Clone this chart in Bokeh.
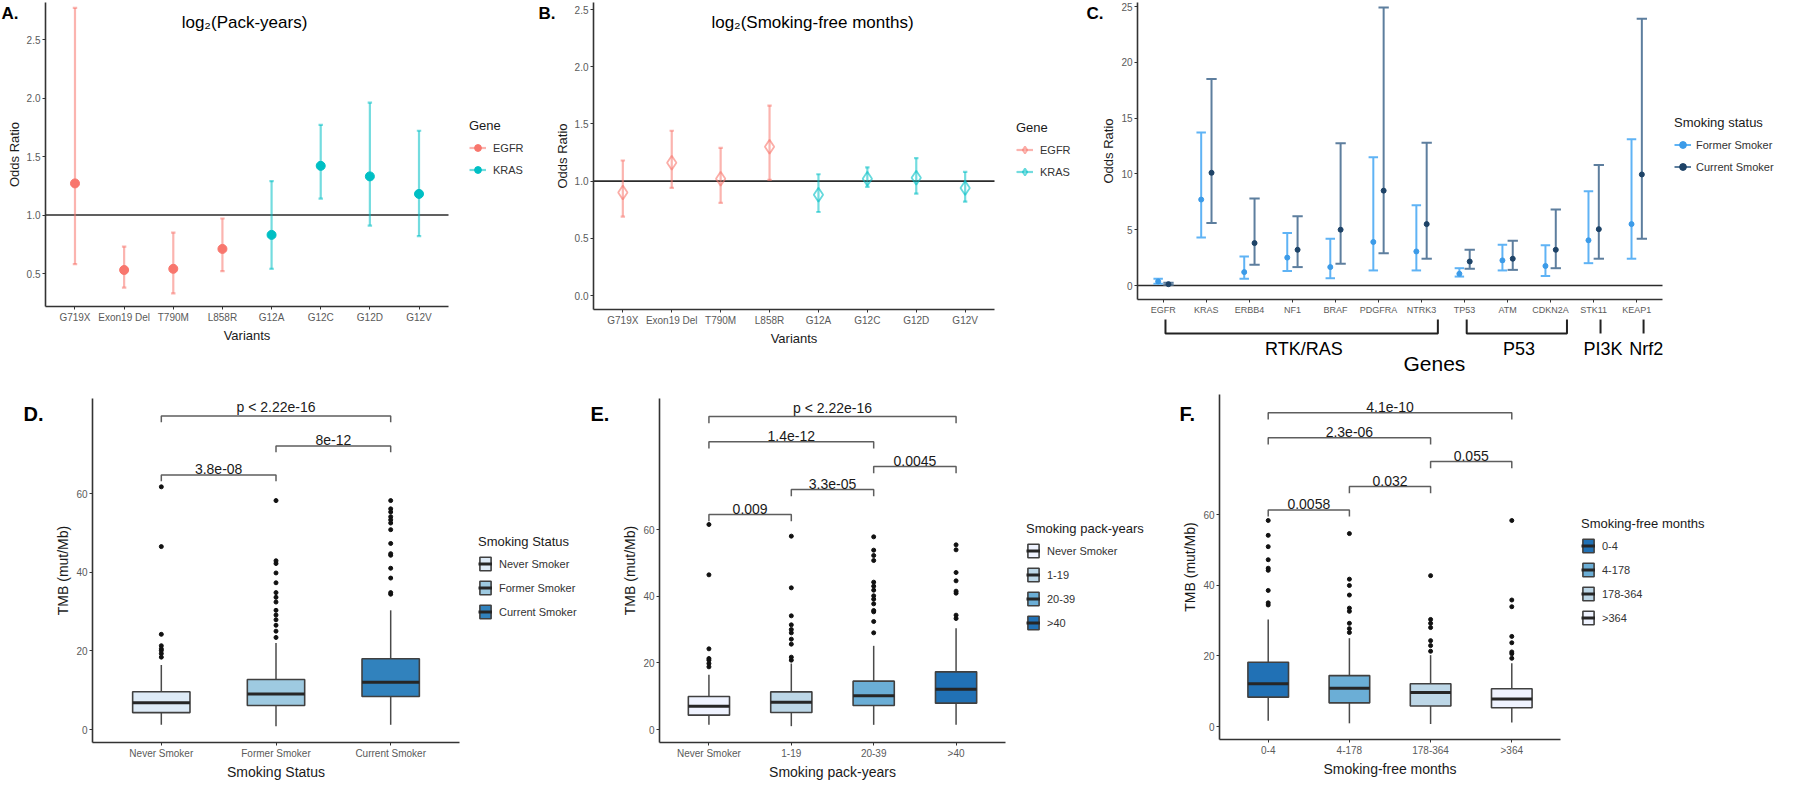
from bokeh.plotting import figure
from bokeh.models import (Range1d, FixedTicker, Label, LabelSet, Legend, LegendItem,
                          ColumnDataSource, PrintfTickFormatter)
from bokeh.layouts import row, column
from bokeh.embed import file_html
from bokeh.resources import INLINE
from bokeh.core.properties import value

FONT = "Liberation Sans"

# ---------------- data: panels A / B ----------------
variants = ["G719X", "Exon19 Del", "T790M", "L858R", "G12A", "G12C", "G12D", "G12V"]
variant_gene = ["EGFR", "EGFR", "EGFR", "EGFR", "KRAS", "KRAS", "KRAS", "KRAS"]
packyears_or = [1.27, 0.53, 0.54, 0.71, 0.83, 1.42, 1.33, 1.18]
packyears_lo = [0.58, 0.38, 0.33, 0.52, 0.54, 1.14, 0.91, 0.82]
packyears_hi = [2.77, 0.73, 0.85, 0.97, 1.29, 1.77, 1.96, 1.72]
sfm_or = [0.90, 1.16, 1.02, 1.30, 0.88, 1.02, 1.03, 0.94]
sfm_lo = [0.69, 0.94, 0.81, 1.01, 0.73, 0.95, 0.89, 0.82]
sfm_hi = [1.18, 1.44, 1.29, 1.66, 1.06, 1.12, 1.20, 1.08]

# ---------------- data: panel C ----------------
genes = ["EGFR", "KRAS", "ERBB4", "NF1", "BRAF", "PDGFRA", "NTRK3",
         "TP53", "ATM", "CDKN2A", "STK11", "KEAP1"]
former_or = [0.36, 7.7, 1.2, 2.5, 1.65, 3.9, 3.05, 1.05, 2.25, 1.75, 4.05, 5.5]
former_lo = [0.15, 4.3, 0.6, 1.3, 0.65, 1.35, 1.35, 0.8, 1.35, 0.85, 2.0, 2.4]
former_hi = [0.6, 13.7, 2.6, 4.7, 4.2, 11.5, 7.2, 1.55, 3.65, 3.6, 8.45, 13.1]
current_or = [0.12, 10.1, 3.8, 3.2, 5.0, 8.5, 5.5, 2.15, 2.4, 3.2, 5.05, 9.95]
current_lo = [0.06, 5.6, 1.85, 1.65, 1.95, 2.9, 2.4, 1.5, 1.4, 1.55, 2.4, 4.2]
current_hi = [0.24, 18.5, 7.8, 6.2, 12.75, 24.9, 12.8, 3.2, 4.0, 6.8, 10.8, 23.9]
pathways = ["RTK/RAS", "P53", "PI3K", "Nrf2"]
pathway_first = ["EGFR", "TP53", "STK11", "KEAP1"]
pathway_last = ["NTRK3", "CDKN2A", "STK11", "KEAP1"]

# ---------------- data: panel D ----------------
status_groups = ["Never Smoker", "Former Smoker", "Current Smoker"]
status_q1 = [4.3, 6.1, 8.4]
status_med = [6.8, 9.0, 12.0]
status_q3 = [9.6, 12.7, 18.0]
status_lo = [1.2, 0.8, 1.2]
status_hi = [16.4, 22.0, 30.3]
status_outliers = [
    [18.4, 19.3, 20.1, 20.5, 21.3, 24.2, 46.5, 61.7],
    [23.4, 25.0, 26.5, 27.9, 29.1, 30.3, 32.4, 33.6, 34.8, 37.3, 39.8, 42.2, 42.9, 58.2],
    [34.4, 34.8, 38.5, 41.0, 44.3, 44.7, 47.3, 50.8, 52.5, 53.3, 54.1, 55.3, 56.1, 58.2],
]
status_pairs = [("Never Smoker", "Former Smoker"), ("Former Smoker", "Current Smoker"),
                ("Never Smoker", "Current Smoker")]
status_pvals = ["3.8e-08", "8e-12", "p < 2.22e-16"]
status_bracket_y = [64.7, 72.1, 79.7]

# ---------------- data: panel E ----------------
pack_groups = ["Never Smoker", "1-19", "20-39", ">40"]
pack_q1 = [4.3, 5.1, 7.2, 7.9]
pack_med = [7.0, 8.2, 10.1, 12.1]
pack_q3 = [9.9, 11.3, 14.5, 17.3]
pack_lo = [1.4, 1.0, 1.4, 1.4]
pack_hi = [16.4, 19.8, 25.1, 30.4]
pack_outliers = [
    [18.8, 19.8, 20.8, 21.3, 24.2, 46.4, 61.5],
    [20.8, 21.7, 25.6, 27.1, 29.0, 30.0, 31.4, 34.1, 42.5, 58.0],
    [29.0, 32.4, 35.3, 35.7, 37.7, 39.1, 40.1, 41.8, 43.0, 44.2, 50.7, 52.2, 53.8, 57.8],
    [33.3, 34.3, 40.9, 41.5, 44.6, 47.1, 53.9, 55.4],
]
pack_pairs = [("Never Smoker", "1-19"), ("1-19", "20-39"), ("20-39", ">40"),
              ("Never Smoker", "20-39"), ("Never Smoker", ">40")]
pack_pvals = ["0.009", "3.3e-05", "0.0045", "1.4e-12", "p < 2.22e-16"]
pack_bracket_y = [64.5, 72.0, 78.9, 86.3, 93.9]

# ---------------- data: panel F ----------------
free_groups = ["0-4", "4-178", "178-364", ">364"]
free_q1 = [8.3, 6.7, 5.8, 5.3]
free_med = [12.1, 10.8, 9.6, 7.8]
free_q3 = [18.2, 14.4, 12.1, 10.7]
free_lo = [1.65, 0.9, 0.7, 1.1]
free_hi = [30.3, 25.0, 20.2, 17.9]
free_outliers = [
    [34.4, 35.0, 38.5, 44.2, 44.8, 47.2, 50.9, 54.1, 58.3],
    [26.6, 27.7, 29.2, 32.6, 33.5, 37.2, 39.9, 41.7, 54.6],
    [21.3, 22.9, 24.3, 28.0, 29.2, 30.3, 42.7],
    [19.3, 20.6, 21.1, 23.7, 25.5, 33.9, 35.8, 58.3],
]
free_pairs = [("0-4", "4-178"), ("4-178", "178-364"), ("178-364", ">364"),
              ("0-4", "178-364"), ("0-4", ">364")]
free_pvals = ["0.0058", "0.032", "0.055", "2.3e-06", "4.1e-10"]
free_bracket_y = [61.3, 67.9, 75.0, 81.7, 88.8]


# ---------------- helpers ----------------
def panel_fig(X0, Y0, W, H, box, n, yv1, yp1, yv2, yp2, tick_size="10px"):
    """Figure whose frame is the whole panel; ggplot-like axes fixed at the plot box."""
    left, right, top, bottom = box
    s = (right - left) / (n + 0.2)
    xs0 = 0.4 - (left - X0) / s
    xe0 = xs0 + W / s
    k = (yp1 - yp2) / (yv2 - yv1)
    ye0 = yv1 + (yp1 - Y0) / k
    ys0 = ye0 - H / k
    ybot = yv1 - (bottom - yp1) / k
    ytop = yv1 + (yp1 - top) / k
    p = figure(width=W, height=H, x_range=Range1d(xs0, xe0), y_range=Range1d(ys0, ye0),
               min_border_left=0, min_border_right=0, min_border_top=0, min_border_bottom=0,
               output_backend="svg", toolbar_location=None, tools="")
    p.xgrid.visible = False
    p.ygrid.visible = False
    p.outline_line_color = None
    p.background_fill_color = "white"
    p.border_fill_color = "white"
    for ax in (p.xaxis[0], p.yaxis[0]):
        ax.axis_line_color = "#333333"
        ax.axis_line_width = 1.6
        ax.major_tick_line_color = "#333333"
        ax.major_tick_line_width = 1
        ax.major_tick_out = 3
        ax.major_tick_in = 0
        ax.minor_tick_line_color = None
        ax.major_label_text_font = FONT
        ax.major_label_text_font_size = "10px"
        ax.major_label_text_color = "#5A5A5A"
        ax.major_label_standoff = 2
        ax.axis_label_text_font = FONT
        ax.axis_label_text_font_style = "normal"
        ax.axis_label_text_font_size = "13px"
        ax.axis_label_text_color = "#1A1A1A"
        ax.axis_label_standoff = 2
    xs = list(range(1, n + 1))
    p.xaxis.ticker = FixedTicker(ticks=xs)
    p.xaxis.major_label_text_font_size = tick_size
    p.xaxis.fixed_location = ybot
    p.yaxis.fixed_location = 0.4
    p.xaxis.bounds = (0.4, n + 0.6)
    p.yaxis.bounds = (ybot, ytop)
    return p, xs, k


def add_text(p, x, y, text, size, bold=False, align="left", baseline="middle",
             color="#000000", units="screen"):
    p.add_layout(Label(x=x, y=y, x_units=units, y_units=units, text=text,
                       text_font=FONT, text_font_size=f"{size}px",
                       text_font_style="bold" if bold else "normal",
                       text_align=align, text_baseline=baseline, text_color=color))


def make_legend(p, title, items, x, title_top, Y0, fig_h, gw=17, gh=17, spacing=5, standoff=7):
    """x relative to the figure's left edge; title_top in page pixels."""
    n = len(items)
    bottom = (title_top - Y0) + 15 + 6 + n * gh + (n - 1) * spacing
    lg = Legend(items=items, location=(x, fig_h - bottom), title=title)
    lg.title_text_font = FONT
    lg.title_text_font_size = "13px"
    lg.title_text_font_style = "normal"
    lg.title_text_color = "#1A1A1A"
    lg.title_standoff = 6
    lg.label_text_font = FONT
    lg.label_text_font_size = "11px"
    lg.label_text_color = "#333333"
    lg.glyph_width = gw
    lg.glyph_height = gh
    lg.label_height = gh
    lg.spacing = spacing
    lg.padding = 0
    lg.margin = 0
    lg.label_standoff = standoff
    lg.background_fill_alpha = 0
    lg.border_line_alpha = 0
    p.add_layout(lg)


def errbars(xs, lo, hi, half):
    x0, y0, x1, y1 = [], [], [], []
    for x, l, h in zip(xs, lo, hi):
        x0 += [x, x - half, x - half]
        x1 += [x, x + half, x + half]
        y0 += [l, l, h]
        y1 += [h, l, h]
    return dict(x0=x0, y0=y0, x1=x1, y1=y1)


# ---------------- panels A / B ----------------
def forest_panel(X0, W, box, yv1, yp1, yv2, yp2, ticks, values, lo, hi, title, title_x,
                 letter, letter_x, marker, leg_x, leg_top):
    n = len(variants)
    p, xs, k = panel_fig(X0, 8, W, 392, box, n, yv1, yp1, yv2, yp2)
    p.xaxis.major_label_overrides = {x: v for x, v in zip(xs, variants)}
    p.yaxis.ticker = FixedTicker(ticks=ticks)
    p.yaxis.formatter = PrintfTickFormatter(format="%.1f")
    p.xaxis.axis_label = "Variants"
    p.yaxis.axis_label = "Odds Ratio"
    p.segment(x0=[0.4], y0=[1.0], x1=[n + 0.6], y1=[1.0], line_color="#2B2B2B", line_width=1.6)
    items = []
    for gene, color in (("EGFR", "#F8766D"), ("KRAS", "#00BFC4")):
        idx = [i for i, g in enumerate(variant_gene) if g == gene]
        gx = [xs[i] for i in idx]
        seg = p.segment(x0="x0", y0="y0", x1="x1", y1="y1",
                        source=ColumnDataSource(errbars(gx, [lo[i] for i in idx],
                                                        [hi[i] for i in idx], 0.045)),
                        line_color=color, line_alpha=0.55, line_width=2.2)
        if marker == "circle":
            pts = p.scatter(gx, [values[i] for i in idx], marker="circle", size=9,
                            fill_color=color, line_color=color)
        else:
            pts = p.scatter(gx, [values[i] for i in idx], marker="diamond", size=14,
                            fill_alpha=0, line_color=color, line_alpha=0.6, line_width=1.8)
        items.append(LegendItem(label=gene, renderers=[seg, pts]))
    make_legend(p, "Gene", items, leg_x, leg_top, 8, 392)
    add_text(p, title_x, 370, title, 17, align="center")
    add_text(p, letter_x, 389, letter, 17, bold=True, baseline="top")
    return p


pA = forest_panel(8, 537, (53, 456, 10, 314), 0.5, 281, 2.5, 47, [0.5, 1.0, 1.5, 2.0, 2.5],
                  packyears_or, packyears_lo, packyears_hi, "log\u2082(Pack-years)", 244,
                  "A.", 1, "circle", 469, 126)
pB = forest_panel(545, 545, (601, 1002, 10, 317), 0.0, 303, 2.5, 17,
                  [0.0, 0.5, 1.0, 1.5, 2.0, 2.5],
                  sfm_or, sfm_lo, sfm_hi, "log\u2082(Smoking-free months)", 275,
                  "B.", 1, "diamond", 479, 128)

# ---------------- panel C ----------------
pC, gxs, kC = panel_fig(1090, 8, 702, 392, (1145, 1670, 10, 307), len(genes), 0, 293, 25, 14,
                        tick_size="9px")
pC.xaxis.major_label_overrides = {x: g for x, g in zip(gxs, genes)}
pC.yaxis.ticker = FixedTicker(ticks=[0, 5, 10, 15, 20, 25])
pC.yaxis.axis_label = "Odds Ratio"
pC.segment(x0=[0.4], y0=[0.0], x1=[len(genes) + 0.6], y1=[0.0], line_color="#2B2B2B",
           line_width=1.6)
c_items = []
for name, vals, lo, hi, off, bar_c, pt_c, half in (
        ("Former Smoker", former_or, former_lo, former_hi, -0.12, "#5FB3F5", "#3C9BE8", 0.11),
        ("Current Smoker", current_or, current_lo, current_hi, 0.12, "#5D7E9E", "#1E4367", 0.12)):
    dx = [x + off for x in gxs]
    seg = pC.segment(x0="x0", y0="y0", x1="x1", y1="y1",
                     source=ColumnDataSource(errbars(dx, lo, hi, half)),
                     line_color=bar_c, line_width=2)
    pts = pC.scatter(dx, vals, marker="circle", size=5, fill_color=pt_c, line_color=pt_c)
    c_items.append(LegendItem(label=name, renderers=[seg, pts]))
make_legend(pC, "Smoking status", c_items, 592, 123, 8, 392, standoff=5)
add_text(pC, 4, 389, "C.", 17, bold=True, baseline="top")

bk_x, bk_y = [], []
for pw, g1, g2 in zip(pathways, pathway_first, pathway_last):
    a = gxs[genes.index(g1)]
    b = gxs[genes.index(g2)]
    if a == b:
        bk_x.append([a + 0.16, a + 0.16])
        bk_y.append([-3.05, -4.3])
        add_text(pC, a + 0.22, -5.65, pw, 18, align="center", units="data")
    else:
        a0, b0 = a + 0.05, b + 0.38
        bk_x.append([a0, a0, b0, b0])
        bk_y.append([-3.05, -4.3, -4.3, -3.05])
        add_text(pC, (a0 + b0) / 2 + 0.05, -5.65, pw, 18, align="center", units="data")
pC.multi_line(bk_x, bk_y, line_color="#222222", line_width=2)
add_text(pC, (gxs[6] + gxs[7]) / 2 - 0.2, -6.95, "Genes", 21, align="center", units="data")


# ---------------- panels D / E / F ----------------
def box_panel(X0, W, box, y0px, y60px, groups, q1, med, q3, lo, hi, outliers,
              colors, pairs, pvals, bys, drop, xlabel, leg_x, leg_top, letter, letter_x):
    n = len(groups)
    p, xs, k = panel_fig(X0, 400, W, 392, box, n, 0, y0px, 60, y60px)
    p.xaxis.major_label_overrides = {x: g for x, g in zip(xs, groups)}
    p.yaxis.ticker = FixedTicker(ticks=[0, 20, 40, 60])
    p.xaxis.axis_label = xlabel
    p.yaxis.axis_label = "TMB (mut/Mb)"
    p.xaxis.axis_label_text_font_size = "14px"
    p.yaxis.axis_label_text_font_size = "14px"
    p.segment(x0=xs, y0=q3, x1=xs, y1=hi, line_color="#4A4A4A", line_width=1.5)
    p.segment(x0=xs, y0=lo, x1=xs, y1=q1, line_color="#4A4A4A", line_width=1.5)
    src = ColumnDataSource(dict(x=xs, q1=q1, q3=q3, med=med, color=colors,
                                left=[x - 0.25 for x in xs], right=[x + 0.25 for x in xs]))
    box_r = p.vbar(x="x", width=0.5, bottom="q1", top="q3", fill_color="color",
                   line_color="#404040", line_width=1.6, source=src)
    medr = p.segment(x0="left", y0="med", x1="right", y1="med", line_color="#262626",
                     line_width=3, source=src)
    ox = [x for x, outs in zip(xs, outliers) for _ in outs]
    oy = [v for outs in outliers for v in outs]
    p.scatter(ox, oy, marker="circle", size=4, fill_color="#111111", line_color="#111111")
    bx, by, lx, ly = [], [], [], []
    for (g1, g2), yb in zip(pairs, bys):
        a = xs[groups.index(g1)]
        b = xs[groups.index(g2)]
        bx.append([a, a, b, b])
        by.append([yb - drop, yb, yb, yb - drop])
        lx.append((a + b) / 2)
        ly.append(yb)
    p.multi_line(bx, by, line_color="#5E5E5E", line_width=1.5)
    p.add_layout(LabelSet(x="x", y="y", text="t",
                          source=ColumnDataSource(dict(x=lx, y=ly, t=pvals)),
                          text_font=value(FONT), text_font_size="14px", text_align="center",
                          text_baseline="bottom", y_offset=1, text_color="#1A1A1A"))
    items = [LegendItem(label=g, renderers=[box_r, medr], index=i) for i, g in enumerate(groups)]
    make_legend(p, xlabel, items, leg_x, leg_top, 400, 392, gw=14, gh=17, spacing=7)
    add_text(p, letter_x, 382, letter, 20, bold=True, baseline="top")
    return p


pD = box_panel(8, 590, (100, 467, 406, 750), 737, 501, status_groups, status_q1, status_med,
               status_q3, status_lo, status_hi, status_outliers,
               ["#DEEBF7", "#9ECAE1", "#3182BD"], status_pairs, status_pvals,
               status_bracket_y, 1.6, "Smoking Status", 478, 542, "D.", 23)
pE = box_panel(598, 587, (667, 1013, 406, 750), 737, 537, pack_groups, pack_q1, pack_med,
               pack_q3, pack_lo, pack_hi, pack_outliers,
               ["#EFF3FF", "#BDD7E7", "#6BAED6", "#2171B5"], pack_pairs, pack_pvals,
               pack_bracket_y, 2.0, "Smoking pack-years", 436, 529, "E.", 0)
pF = box_panel(1185, 607, (1227, 1568, 402, 747), 734, 522, free_groups, free_q1, free_med,
               free_q3, free_lo, free_hi, free_outliers,
               ["#2171B5", "#6BAED6", "#BDD7E7", "#EFF3FF"], free_pairs, free_pvals,
               free_bracket_y, 1.9, "Smoking-free months", 404, 524, "F.", 2)

layout = column(row(pA, pB, pC, spacing=0), row(pD, pE, pF, spacing=0), spacing=0)
open("out.html", "w").write(file_html(layout, INLINE))
